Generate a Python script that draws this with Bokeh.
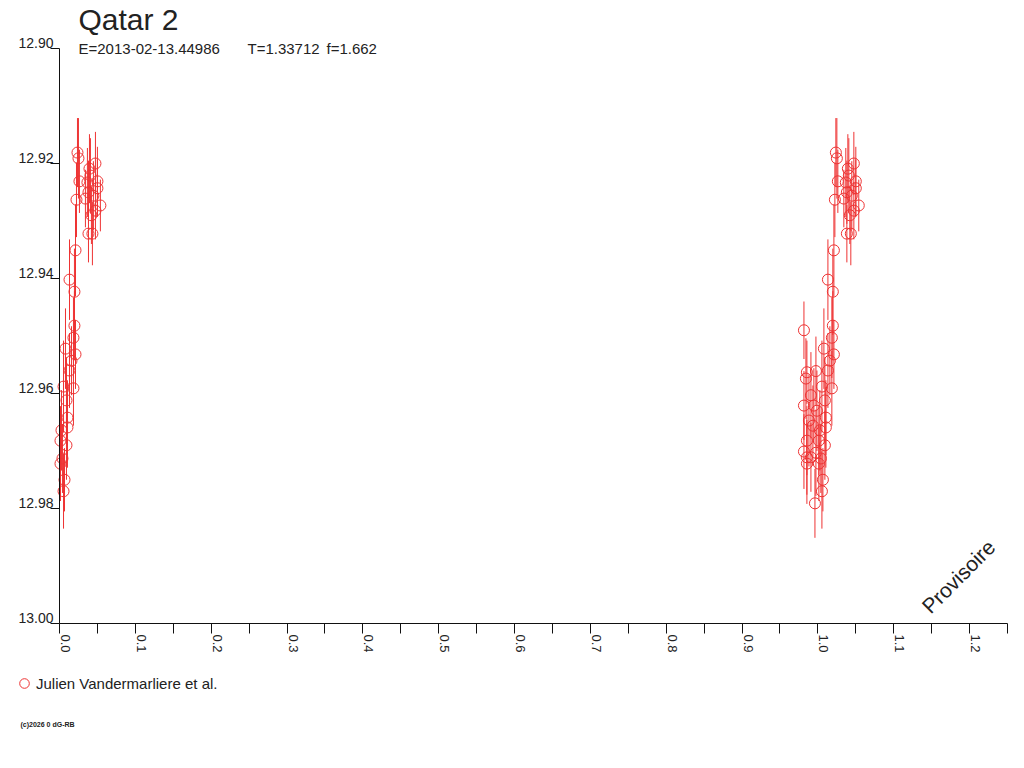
import numpy as np
from bokeh.plotting import figure
from bokeh.models import (Range1d, FixedTicker, PrintfTickFormatter, Label, LinearAxis,
                          Legend, LegendItem, ColumnDataSource)
from bokeh.embed import file_html
from bokeh.resources import INLINE

# ---- data (phase, magnitude, error) ----
phase = [-0.0184, -0.0184, -0.0184, -0.0158, -0.0145, -0.0145, -0.0145, -0.0145,
         -0.0118, -0.0092, -0.0092, -0.0066, -0.0053, -0.0039, -0.0026, -0.0026,
         -0.0013, 0.0013, 0.0013, 0.0026, 0.0039, 0.0053, 0.0053, 0.0066,
         0.0079, 0.0092, 0.0092, 0.0105, 0.0105, 0.0132, 0.0132, 0.0158,
         0.0184, 0.0184, 0.0197, 0.0197, 0.0211, 0.0211, 0.0224, 0.0237,
         0.0250, 0.0263, 0.0342, 0.0368, 0.0382, 0.0382, 0.0395, 0.0408,
         0.0421, 0.0434, 0.0447, 0.0474, 0.0474, 0.0500, 0.0500, 0.0539]
mag = [12.9490, 12.9621, 12.9701, 12.9574, 12.9563, 12.9682, 12.9711, 12.9722,
       12.9647, 12.9603, 12.9711, 12.9656, 12.9621, 12.9791, 12.9561, 12.9703,
       12.9630, 12.9682, 12.9722, 12.9664, 12.9713, 12.9588, 12.9770, 12.9750,
       12.9522, 12.9612, 12.9690, 12.9642, 12.9659, 12.9402, 12.9560, 12.9543,
       12.9503, 12.9591, 12.9423, 12.9482, 12.9351, 12.9532, 12.9263, 12.9181,
       12.9191, 12.9231, 12.9261, 12.9233, 12.9322, 12.9250, 12.9209, 12.9221,
       12.9290, 12.9322, 12.9256, 12.9200, 12.9282, 12.9231, 12.9243, 12.9273]
err = [0.0050, 0.0060, 0.0065, 0.0070, 0.0055, 0.0060, 0.0065, 0.0070,
       0.0080, 0.0075, 0.0060, 0.0070, 0.0065, 0.0060, 0.0060, 0.0075,
       0.0070, 0.0060, 0.0065, 0.0070, 0.0060, 0.0080, 0.0065, 0.0055,
       0.0070, 0.0075, 0.0060, 0.0065, 0.0070, 0.0070, 0.0065, 0.0060,
       0.0070, 0.0065, 0.0075, 0.0060, 0.0080, 0.0060, 0.0065, 0.0060,
       0.0070, 0.0055, 0.0050, 0.0060, 0.0050, 0.0055, 0.0060, 0.0065,
       0.0050, 0.0055, 0.0060, 0.0055, 0.0050, 0.0060, 0.0050, 0.0045]

x_ticks = [0.0, 0.1, 0.2, 0.3, 0.4, 0.5, 0.6, 0.7, 0.8, 0.9, 1.0, 1.1, 1.2]
x_minor = [0.05, 0.15, 0.25, 0.35, 0.45, 0.55, 0.65, 0.75, 0.85, 0.95, 1.05, 1.15, 1.25]
y_ticks = [12.90, 12.92, 12.94, 12.96, 12.98, 13.00]
x_lim = (0.0, 1.25)
y_lim = (12.90, 13.00)

title_text = "Qatar 2"
epoch_text = "E=2013-02-13.44986"
period_text = "T=1.33712"
f_text = "f=1.662"
legend_label = "Julien Vandermarliere et al."
watermark = "Provisoire"
copyright_text = "(c)2026 0 dG-RB"

RED = "#EE3333"
TXT = "#222222"
AX = "#111111"
FONT = "Liberation Sans"

# ---- layout (pixels) ----
W, H = 1016, 760
AX_LEFT, AX_RIGHT, AX_TOP, AX_BOTTOM = 59, 1007, 48, 623
xpx = (AX_RIGHT - AX_LEFT) / (x_lim[1] - x_lim[0])
ypx = (AX_BOTTOM - AX_TOP) / (y_lim[1] - y_lim[0])
x0 = x_lim[0] - AX_LEFT / xpx
x1 = x_lim[0] + (W - AX_LEFT) / xpx
y_top = y_lim[0] - AX_TOP / ypx
y_bot = y_lim[1] + (H - AX_BOTTOM) / ypx
LAB_SHIFT = 6  # tick labels sit 6px right of / above their ticks

ph = np.array(phase)
m = np.array(mag)
e = np.array(err)
keep = ph >= x_lim[0]
xs = np.concatenate([ph[keep], ph + 1.0])
ys = np.concatenate([m[keep], m])
es = np.concatenate([e[keep], e])
src = ColumnDataSource(dict(x=xs, y=ys, lo=ys - es, hi=ys + es))

p = figure(width=W, height=H, x_range=Range1d(x0, x1), y_range=Range1d(y_bot, y_top),
           output_backend="svg", toolbar_location=None,
           min_border_left=0, min_border_right=0, min_border_top=0, min_border_bottom=0,
           x_axis_location=None, y_axis_location=None)
p.outline_line_color = None
p.xgrid.visible = False
p.ygrid.visible = False
p.background_fill_color = "white"
p.extra_x_ranges = {"xlab": Range1d(x0 - LAB_SHIFT / xpx, x1 - LAB_SHIFT / xpx)}
p.extra_y_ranges = {"ylab": Range1d(y_bot + LAB_SHIFT / ypx, y_top + LAB_SHIFT / ypx)}

p.segment(x0="x", y0="lo", x1="x", y1="hi", source=src, line_color=RED, line_width=1)
r = p.scatter("x", "y", source=src, marker="circle", size=11, fill_color=None,
              line_color=RED, line_width=1)

# axes: one with line + ticks, one with labels only
x_line = LinearAxis(fixed_location=y_lim[1], bounds=x_lim,
                    ticker=FixedTicker(ticks=[], minor_ticks=sorted(x_ticks + x_minor)),
                    axis_line_color=AX, minor_tick_line_color=AX, minor_tick_in=0,
                    minor_tick_out=10, major_tick_in=0, major_tick_out=0)
x_lab = LinearAxis(fixed_location=y_lim[1], x_range_name="xlab",
                   ticker=FixedTicker(ticks=x_ticks),
                   formatter=PrintfTickFormatter(format="%.1f"),
                   axis_line_color=None, major_tick_line_color=None, minor_tick_line_color=None,
                   major_tick_in=0, major_tick_out=0, major_label_standoff=11,
                   major_label_orientation=-np.pi / 2,
                   major_label_text_font=FONT, major_label_text_font_size="13px",
                   major_label_text_color=TXT)
y_line = LinearAxis(fixed_location=x_lim[0], bounds=y_lim,
                    ticker=FixedTicker(ticks=[], minor_ticks=y_ticks),
                    axis_line_color=AX, minor_tick_line_color=AX, minor_tick_in=0,
                    minor_tick_out=9, major_tick_in=0, major_tick_out=0)
y_lab = LinearAxis(fixed_location=x_lim[0], y_range_name="ylab",
                   ticker=FixedTicker(ticks=y_ticks),
                   formatter=PrintfTickFormatter(format="%.2f"),
                   axis_line_color=None, major_tick_line_color=None, minor_tick_line_color=None,
                   major_tick_in=0, major_tick_out=0, major_label_standoff=6,
                   major_label_text_font=FONT, major_label_text_font_size="14px",
                   major_label_text_color=TXT)
p.add_layout(x_line, "below")
p.add_layout(x_lab, "below")
p.add_layout(y_line, "left")
p.add_layout(y_lab, "left")

# texts (screen units: from the frame's bottom-left corner, y upward)
def lab(x, y, text, size, angle=0.0, align="left", bold=False):
    p.add_layout(Label(x=x, y=H - y, x_units="screen", y_units="screen", text=text,
                       text_font=FONT, text_font_size=size, text_color=TXT,
                       text_align=align, text_baseline="middle", angle=angle,
                       text_font_style="bold" if bold else "normal"))

lab(78, 19, title_text, "30px")
lab(78, 48, epoch_text, "15px")
lab(247, 48, period_text, "15px")
lab(326, 48, f_text, "15px")
lab(958, 576, watermark, "21px", angle=np.pi / 4, align="center")
lab(20, 724, copyright_text, "7px", bold=True)

GL = 24  # legend glyph box (marker drawn at 0.4 of it)
legend = Legend(items=[LegendItem(label=legend_label, renderers=[r])],
                location=(24 - GL // 2, H - (683 + GL // 2)),
                border_line_color=None, background_fill_alpha=0, padding=0, margin=0,
                label_text_font=FONT, label_text_font_size="15px", label_text_color=TXT,
                glyph_width=GL, glyph_height=GL, label_standoff=0, spacing=0)
p.add_layout(legend)

open("out.html", "w").write(file_html(p, INLINE))
